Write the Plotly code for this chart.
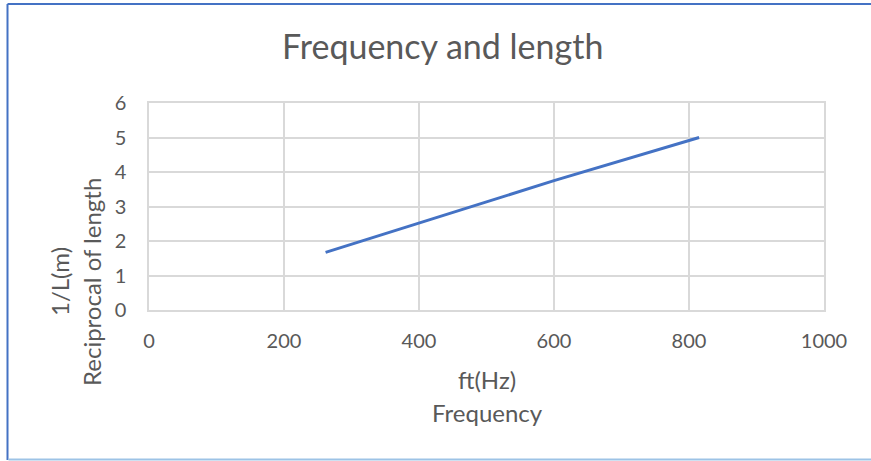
import plotly.graph_objects as go

# Data
frequency_hz = [261.6, 600, 815]
reciprocal_length = [1.67, 3.75, 5.0]

x_ticks = [0, 200, 400, 600, 800, 1000]
y_ticks = [0, 1, 2, 3, 4, 5, 6]

title_text = "Frequency and length"
x_title_lines = ["ft(Hz)", "Frequency"]
y_title_lines = ["1/L(m)", "Reciprocal of length"]

W, H = 871, 461
L, R, T, B = 149, 47, 103, 151
pw, ph = W - L - R, H - T - B

def px(x):
    return (x - L) / pw

def py(y):
    return (H - B - y) / ph

fig = go.Figure()
fig.add_trace(go.Scatter(
    x=frequency_hz, y=reciprocal_length, mode="lines",
    line=dict(color="#4472C4", width=3),
    showlegend=False, hoverinfo="x+y",
))

font_family = "Lato, 'Open Sans', sans-serif"
grey = "#595959"

annotations = [
    dict(text=title_text, xref="paper", yref="paper", x=px(442), y=py(45),
         xanchor="center", yanchor="middle", showarrow=False,
         font=dict(size=34, color=grey)),
    dict(text=x_title_lines[0], xref="paper", yref="paper", x=px(487), y=py(379),
         xanchor="center", yanchor="middle", showarrow=False,
         font=dict(size=24, color=grey)),
    dict(text=x_title_lines[1], xref="paper", yref="paper", x=px(487), y=py(412),
         xanchor="center", yanchor="middle", showarrow=False,
         font=dict(size=24, color=grey)),
    dict(text=y_title_lines[0], xref="paper", yref="paper", x=px(59), y=py(282),
         xanchor="center", yanchor="middle", showarrow=False, textangle=-90,
         font=dict(size=24, color=grey)),
    dict(text=y_title_lines[1], xref="paper", yref="paper", x=px(91), y=py(282),
         xanchor="center", yanchor="middle", showarrow=False, textangle=-90,
         font=dict(size=24, color=grey)),
]

fig.update_layout(
    width=W, height=H,
    margin=dict(l=L, r=R, t=T, b=B),
    paper_bgcolor="white", plot_bgcolor="white",
    font=dict(family=font_family, color=grey, size=16),
    xaxis=dict(range=[0, 1000], tickvals=x_ticks, showgrid=True,
               gridcolor="#D9D9D9", gridwidth=1.5, zeroline=False,
               showline=True, linecolor="#D9D9D9", linewidth=1.5, mirror=True,
               ticks="", ticklabelstandoff=12,
               tickfont=dict(size=20, color=grey)),
    yaxis=dict(range=[0, 6], tickvals=y_ticks, showgrid=True,
               gridcolor="#D9D9D9", gridwidth=1.5, zeroline=False,
               showline=True, linecolor="#D9D9D9", linewidth=1.5, mirror=True,
               ticks="", ticklabelstandoff=17,
               tickfont=dict(size=20, color=grey)),
    annotations=annotations,
    shapes=[
        dict(type="line", xref="paper", yref="paper",
             x0=px(7.5), x1=px(7.5), y0=py(4), y1=py(460), line=dict(color="#4472C4", width=2)),
        dict(type="line", xref="paper", yref="paper",
             x0=px(7.5), x1=px(871), y0=py(4), y1=py(4), line=dict(color="#4472C4", width=2)),
        dict(type="line", xref="paper", yref="paper",
             x0=px(8.5), x1=px(871), y0=py(459.5), y1=py(459.5), line=dict(color="#9DC3E6", width=2)),
    ],
)

fig.write_html("out.html")
